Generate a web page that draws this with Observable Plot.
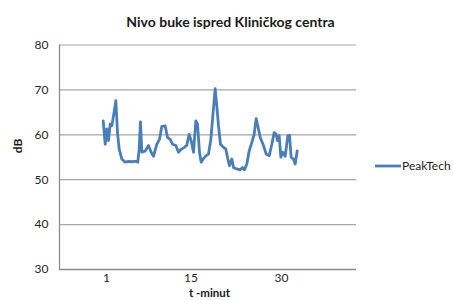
<!DOCTYPE html>
<html>
<head>
<meta charset="utf-8">
<script src="https://cdn.jsdelivr.net/npm/d3@7"></script>
<script src="https://cdn.jsdelivr.net/npm/@observablehq/plot@0.6"></script>
<style>
  body { margin: 0; background: #fff; }
  #wrap { position: relative; width: 453px; height: 300px; font-family: Lato, sans-serif; }
  #legend { position: absolute; left: 375px; top: 158px; display: flex; align-items: center; font-size: 12px; color: #222; }
  #legend svg { display: block; margin-right: 1px; }
</style>
</head>
<body>
<div id="wrap"><div id="legend"></div></div>
<script>
const title = "Nivo buke ispred Kliničkog centra";
const xTitle = "t -minut";
const yTitle = "dB";
const seriesName = "PeakTech";
const xTicks = [1, 15, 30];
const yTicks = [30, 40, 50, 60, 70, 80];
const xDomain = [-6.79, 42.43];
const yDomain = [30, 80];

const t = [0.45,0.78,1.06,1.33,1.61,1.88,2.16,2.55,2.82,3.10,3.54,4.09,4.65,5.20,5.75,6.19,6.41,6.63,6.86,7.41,7.96,8.40,8.79,9.34,9.78,10.17,10.72,11.11,11.55,11.94,12.49,12.93,13.37,13.93,14.31,14.70,15.03,15.42,15.80,16.08,16.41,16.69,17.07,17.46,17.90,18.29,18.62,19.01,19.28,19.56,19.89,20.39,20.78,21.11,21.38,21.77,22.05,22.60,23.15,23.54,23.87,24.26,24.64,25.09,25.47,25.80,26.08,26.47,27.02,27.46,27.96,28.40,28.79,29.12,29.34,29.62,29.89,30.22,30.61,31.05,31.33,31.60,31.99,32.27,32.60];
const dB = [63.1,57.9,61.3,58.7,62.4,62.0,64.2,67.6,60.5,56.8,54.6,53.9,54.1,54.0,54.1,53.9,56.8,62.9,56.1,56.4,57.6,56.1,55.2,57.9,59.0,61.9,62.0,59.4,59.0,57.9,57.6,56.1,56.8,57.2,57.7,60.1,58.7,56.1,63.1,62.4,56.1,53.9,54.7,55.3,55.7,59.0,64.2,70.3,66.4,62.0,57.9,57.2,56.8,54.6,53.1,54.6,52.7,52.4,52.2,52.7,52.2,53.5,56.4,58.3,60.1,63.6,62.0,59.4,57.6,55.7,55.3,57.9,60.5,60.1,58.7,59.8,55.0,56.1,55.2,59.8,59.9,55.0,54.6,53.5,56.4];

const data = t.map((v, i) => ({t: v, db: dB[i]}));
const lineColor = "#4a7ebb";

const chart = Plot.plot({
  width: 453,
  height: 300,
  marginLeft: 59,
  marginRight: 97,
  marginTop: 44.5,
  marginBottom: 31,
  style: {fontFamily: "Lato, sans-serif", fontSize: "12px", color: "#262626", background: "#fff"},
  x: {domain: xDomain},
  y: {domain: yDomain},
  marks: [
    Plot.ruleY(yTicks.slice(1), {stroke: "#a6a6a6", strokeWidth: 1.2}),
    Plot.ruleY([yDomain[0]], {stroke: "#8a8a8a", strokeWidth: 1.3}),
    Plot.ruleX([xDomain[0]], {stroke: "#8a8a8a", strokeWidth: 1.3}),
    Plot.axisY({ticks: yTicks, tickSize: 0, tickPadding: 11, label: null, fontSize: 12}),
    Plot.axisX({ticks: xTicks, tickSize: 0, tickPadding: 4, label: null, fontSize: 12}),
    Plot.line(data, {x: "t", y: "db", stroke: lineColor, strokeWidth: 2.8, strokeLinejoin: "round", curve: "linear"}),
    Plot.text([title], {frameAnchor: "top", dx: 22.5, dy: -22, text: d => d, fontWeight: "bold", fontSize: 14, fill: "#1a1a1a", lineAnchor: "middle"}),
    Plot.text([xTitle], {frameAnchor: "bottom", dx: 1.5, dy: 24, text: d => d, fontWeight: "bold", fontSize: 11.5, fill: "#1a1a1a", lineAnchor: "middle"}),
    Plot.text([yTitle], {frameAnchor: "left", dx: -41, dy: -4, text: d => d, rotate: -90, fontWeight: "bold", fontSize: 12, fill: "#1a1a1a", lineAnchor: "middle"})
  ]
});
document.getElementById("wrap").prepend(chart);

const legend = document.getElementById("legend");
legend.innerHTML = `<svg width="26" height="4"><line x1="0" y1="2" x2="26" y2="2" stroke="${lineColor}" stroke-width="2.8"/></svg><span>${seriesName}</span>`;
</script>
</body>
</html>
